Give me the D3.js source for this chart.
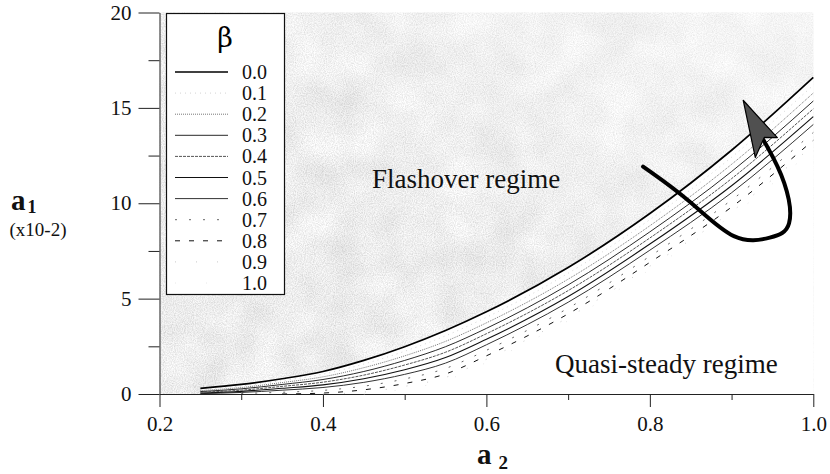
<!DOCTYPE html>
<html>
<head>
<meta charset="utf-8">
<script src="https://cdn.jsdelivr.net/npm/d3@7"></script>
<style>
  html, body { margin: 0; padding: 0; background: #fff; }
  svg { display: block; font-family: "Liberation Serif", "Times New Roman", serif; }
  .axis path, .axis line { stroke: #222; }
  .axis text { font-size: 21px; fill: #111; font-family: "Liberation Serif", serif; }
</style>
</head>
<body>
<svg id="chart" width="830" height="474"></svg>
<script>
const a2Grid = [0.25, 0.3, 0.35, 0.4, 0.45, 0.5, 0.55, 0.6, 0.7, 0.8, 0.9, 1.0];

// a1 (x10-2) for each beta
const a1Beta00 = [0.30, 0.50, 0.80, 1.18, 1.76, 2.48, 3.33, 4.31, 6.63, 9.46, 12.78, 16.60];
const a1Beta01 = [0.24, 0.42, 0.70, 1.04, 1.57, 2.24, 3.05, 4.02, 6.33, 9.14, 12.41, 16.19];
const a1Beta02 = [0.18, 0.34, 0.60, 0.90, 1.38, 2.00, 2.76, 3.73, 6.02, 8.82, 12.04, 15.78];
const a1Beta03 = [0.13, 0.27, 0.50, 0.76, 1.18, 1.76, 2.48, 3.44, 5.72, 8.50, 11.66, 15.36];
const a1Beta04 = [0.09, 0.20, 0.40, 0.62, 0.99, 1.52, 2.19, 3.16, 5.42, 8.18, 11.29, 14.95];
const a1Beta05 = [0.05, 0.14, 0.30, 0.48, 0.80, 1.27, 1.91, 2.87, 5.11, 7.86, 10.92, 14.54];
const a1Beta06 = [0.02, 0.08, 0.20, 0.34, 0.61, 1.03, 1.62, 2.58, 4.81, 7.54, 10.55, 14.13];
const a1Beta07 = [null, 0.03, 0.09, 0.19, 0.41, 0.79, 1.34, 2.29, 4.50, 7.22, 10.17, 13.71];
const a1Beta08 = [null, null, 0.00, 0.05, 0.22, 0.55, 1.05, 2.00, 4.20, 6.90, 9.80, 13.30];
const a1Beta09 = [null, null, null, 0.00, 0.10, 0.40, 0.87, 1.82, 4.01, 6.70, 9.56, 13.04];
const a1Beta10 = [null, null, null, null, 0.00, 0.26, 0.71, 1.65, 3.84, 6.52, 9.35, 12.81];

const betaLabels = ["0.0", "0.1", "0.2", "0.3", "0.4", "0.5", "0.6", "0.7", "0.8", "0.9", "1.0"];
const xTicks = [0.2, 0.4, 0.6, 0.8, 1.0];
const xMinorTicks = [0.3, 0.5, 0.7, 0.9];
const yTicks = [0, 5, 10, 15, 20];
const yMinorTicks = [2.5, 7.5, 12.5, 17.5];

// curved arrow, in data units (a2, a1)
const arrowShaft = [[0.7917, 11.92], [0.8493, 10.18], [0.9044, 7.82], [0.9500, 8.19],
                    [0.9760, 8.60], [0.9680, 11.10], [0.9388, 13.33]];
const arrowHead = [[0.9142, 15.40], [0.9560, 13.44], [0.9400, 13.45], [0.9290, 12.40]];

const series = [a1Beta00, a1Beta01, a1Beta02, a1Beta03, a1Beta04, a1Beta05,
                a1Beta06, a1Beta07, a1Beta08, a1Beta09, a1Beta10]
  .map((vals, i) => ({
    label: betaLabels[i],
    points: a2Grid.map((a2, j) => ({ a2, a1: vals[j] }))
  }));

const styles = [
  { stroke: "#000", width: 1.7, dash: null },
  { stroke: "#c8c8c8", width: 0.8, dash: "1,4" },
  { stroke: "#777", width: 1, dash: "1,1" },
  { stroke: "#111", width: 0.9, dash: null },
  { stroke: "#555", width: 1, dash: "3,1" },
  { stroke: "#111", width: 1.1, dash: null },
  { stroke: "#333", width: 1, dash: null },
  { stroke: "#666", width: 1, dash: "2,12" },
  { stroke: "#111", width: 1, dash: "5,9" },
  { stroke: "#bbb", width: 0.8, dash: "1,20" },
  { stroke: "#e2e2e2", width: 0.8, dash: "1,30" }
];

const svg = d3.select("#chart");
const x = d3.scaleLinear().domain([0.2, 1.0]).range([159.5, 813.3]);
const y = d3.scaleLinear().domain([0, 20]).range([394, 12.5]);

const plotW = x(1.0) - x(0.2);
const plotH = y(0) - y(20);

// stippled, slightly mottled gray texture for the flashover region
const defs = svg.append("defs");
const filt = defs.append("filter")
  .attr("id", "stipple")
  .attr("filterUnits", "userSpaceOnUse")
  .attr("x", x(0.2)).attr("y", y(20)).attr("width", plotW).attr("height", plotH);
filt.append("feTurbulence")
  .attr("type", "fractalNoise")
  .attr("baseFrequency", 0.9)
  .attr("numOctaves", 2)
  .attr("seed", 3)
  .attr("result", "fineNoise");
filt.append("feColorMatrix")
  .attr("in", "fineNoise")
  .attr("type", "matrix")
  .attr("values", "0.8 0 0 0 0.45  0.8 0 0 0 0.45  0.8 0 0 0 0.45  0 0 0 0 1")
  .attr("result", "fine");
filt.append("feTurbulence")
  .attr("type", "fractalNoise")
  .attr("baseFrequency", 0.025)
  .attr("numOctaves", 2)
  .attr("seed", 11)
  .attr("result", "coarseNoise");
filt.append("feColorMatrix")
  .attr("in", "coarseNoise")
  .attr("type", "matrix")
  .attr("values", "0.4 0 0 0 0.7  0.4 0 0 0 0.7  0.4 0 0 0 0.7  0 0 0 0 1")
  .attr("result", "coarse");
filt.append("feComposite")
  .attr("in", "fine")
  .attr("in2", "coarse")
  .attr("operator", "arithmetic")
  .attr("k1", 0).attr("k2", 0.6).attr("k3", 0.6).attr("k4", -0.2)
  .attr("result", "gray");
filt.append("feComposite")
  .attr("in", "gray")
  .attr("in2", "SourceGraphic")
  .attr("operator", "in");

svg.append("rect")
  .attr("x", x(0.2)).attr("y", y(20))
  .attr("width", plotW).attr("height", plotH)
  .attr("fill", "#ccc")
  .attr("filter", "url(#stipple)");

// lighter patch toward the upper right
const grad = defs.append("linearGradient")
  .attr("id", "fade").attr("x1", 0).attr("y1", 1).attr("x2", 1).attr("y2", 0);
grad.append("stop").attr("offset", "0.45").attr("stop-color", "#fff").attr("stop-opacity", 0);
grad.append("stop").attr("offset", "1").attr("stop-color", "#fff").attr("stop-opacity", 0.45);
svg.append("rect")
  .attr("x", x(0.2)).attr("y", y(20))
  .attr("width", plotW).attr("height", plotH)
  .attr("fill", "url(#fade)");

// white quasi-steady region under the beta = 0 curve
const under = d3.area()
  .x(d => x(d.a2))
  .y0(y(0))
  .y1(d => y(d.a1))
  .curve(d3.curveMonotoneX);
svg.append("path")
  .datum(series[0].points)
  .attr("d", under)
  .attr("fill", "#fff");

// axes
svg.append("g").attr("class", "axis")
  .attr("transform", `translate(${x(0.2)},0)`)
  .call(d3.axisLeft(y).tickValues(yTicks).tickSize(21).tickSizeOuter(0).tickPadding(7)
    .tickFormat(d3.format("d")));
svg.append("g").attr("class", "axis")
  .attr("transform", `translate(${x(0.2)},0)`)
  .call(d3.axisLeft(y).tickValues(yMinorTicks).tickSize(11).tickSizeOuter(0).tickFormat(""))
  .select(".domain").remove();

svg.append("g").attr("class", "axis")
  .attr("transform", `translate(0,${y(0)})`)
  .call(d3.axisBottom(x).tickValues(xTicks).tickSize(13).tickSizeOuter(0).tickPadding(9)
    .tickFormat(d3.format(".1f")));
svg.append("g").attr("class", "axis")
  .attr("transform", `translate(0,${y(0)})`)
  .call(d3.axisBottom(x).tickValues(xMinorTicks).tickSize(6).tickSizeOuter(0).tickFormat(""))
  .select(".domain").remove();

// beta curves
const line = d3.line()
  .defined(d => d.a1 != null)
  .x(d => x(d.a2))
  .y(d => y(d.a1))
  .curve(d3.curveMonotoneX);

svg.append("g")
  .selectAll("path")
  .data(series.slice().reverse())
  .join("path")
  .attr("fill", "none")
  .attr("d", d => line(d.points))
  .each(function (d) {
    const s = styles[betaLabels.indexOf(d.label)];
    d3.select(this)
      .attr("stroke", s.stroke)
      .attr("stroke-width", s.width)
      .attr("stroke-dasharray", s.dash);
  });

// region labels
svg.append("text")
  .attr("x", 372).attr("y", 188)
  .attr("font-size", 27).attr("fill", "#111")
  .text("Flashover regime");
svg.append("text")
  .attr("x", 555).attr("y", 373)
  .attr("font-size", 27).attr("fill", "#111")
  .text("Quasi-steady regime");

// arrow
svg.append("path")
  .attr("d", d3.line().x(d => x(d[0])).y(d => y(d[1])).curve(d3.curveBasis)(arrowShaft))
  .attr("fill", "none")
  .attr("stroke", "#000")
  .attr("stroke-width", 4)
  .attr("stroke-linecap", "round");
svg.append("path")
  .attr("d", d3.line().x(d => x(d[0])).y(d => y(d[1]))(arrowHead) + "Z")
  .attr("fill", "#505050")
  .attr("stroke", "#000")
  .attr("stroke-width", 1.2)
  .attr("stroke-linejoin", "round");

// legend
const legend = svg.append("g");
legend.append("rect")
  .attr("x", 166.5).attr("y", 13.5)
  .attr("width", 118).attr("height", 281)
  .attr("fill", "#fff")
  .attr("stroke", "#111")
  .attr("stroke-width", 1.2);
legend.append("text")
  .attr("x", 225).attr("y", 47)
  .attr("text-anchor", "middle")
  .attr("font-size", 27)
  .attr("font-family", "'DejaVu Serif', 'Liberation Serif', serif")
  .attr("font-weight", 200)
  .text("β");

const rows = legend.selectAll("g.row")
  .data(series)
  .join("g")
  .attr("class", "row")
  .attr("transform", (d, i) => `translate(0,${72 + i * 21.1})`);
rows.append("line")
  .attr("x1", 175).attr("x2", 228)
  .attr("y1", 0).attr("y2", 0)
  .each(function (d, i) {
    const s = styles[i];
    d3.select(this)
      .attr("stroke", s.stroke)
      .attr("stroke-width", s.width)
      .attr("stroke-dasharray", s.dash);
  });
rows.append("text")
  .attr("x", 242).attr("y", 7)
  .attr("font-size", 20)
  .attr("fill", "#111")
  .text(d => d.label);

// axis titles
const yTitle = svg.append("text").attr("x", 11).attr("y", 210).attr("fill", "#111");
yTitle.append("tspan").attr("font-size", 29).attr("font-weight", "bold").text("a");
yTitle.append("tspan").attr("font-size", 18).attr("font-weight", "bold").attr("dy", 3).attr("dx", 2).text("1");
svg.append("text")
  .attr("x", 38).attr("y", 236)
  .attr("text-anchor", "middle")
  .attr("font-size", 19)
  .attr("fill", "#111")
  .text("(x10-2)");

const xTitle = svg.append("text").attr("x", 477).attr("y", 464).attr("fill", "#111");
xTitle.append("tspan").attr("font-size", 29).attr("font-weight", "bold").text("a");
xTitle.append("tspan").attr("font-size", 19).attr("font-weight", "bold").attr("dy", 5).attr("dx", 7).text("2");
</script>
</body>
</html>
